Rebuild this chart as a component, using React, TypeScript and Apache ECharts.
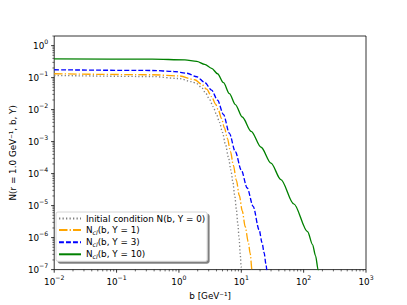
import React, { useEffect, useRef } from 'react';
import * as echarts from 'echarts';

// ---- data ----
const seriesNames = [
  'Initial condition N(b, Y = 0)',
  'Ncl(b, Y = 1)',
  'Ncl(b, Y = 3)',
  'Ncl(b, Y = 10)',
];

const bY0 = [0.01, 0.3727, 1.0, 1.608, 1.931, 2.318, 2.683, 3.105, 3.528, 4.01, 4.475, 4.993, 5.572, 6.219, 6.813, 7.331, 7.831, 8.329, 8.8, 9.228, 9.641, 9.927, 10.37];
const nY0 = [0.117, 0.1082, 0.0938, 0.0746, 0.0646, 0.0486, 0.03277, 0.02059, 0.01248, 7.045e-3, 3.976e-3, 1.944e-3, 8.24e-4, 3.254e-4, 1.285e-4, 5.45e-5, 2.149e-5, 7.9e-6, 2.7e-6, 9.24e-7, 2.94e-7, 1.25e-7, 3.4e-8];

const bY1 = [0.01, 0.3727, 1.0, 1.795, 2.318, 2.783, 3.341, 3.867, 4.315, 4.814, 5.373, 5.995, 6.69, 7.464, 8.329, 9.296, 10.37, 11.57, 12.92, 13.9, 14.84, 15.23];
const nY1 = [0.1322, 0.1231, 0.1129, 0.086, 0.0624, 0.0436, 0.02552, 0.01492, 9.376e-3, 5.292e-3, 2.683e-3, 1.266e-3, 5.0e-4, 1.837e-4, 6.28e-5, 2.074e-5, 6.85e-6, 2.18e-6, 7.46e-7, 3.16e-7, 9.7e-8, 5.7e-8];

const bY3 = [0.01, 0.3727, 0.8328, 1.34, 1.931, 2.587, 3.341, 4.159, 5.179, 6.449, 8.031, 10.0, 12.45, 15.5, 19.31, 21.54, 23.18, 24.94, 25.87, 26.83];
const nY3 = [0.1759, 0.1674, 0.1558, 0.137, 0.1066, 0.071, 0.0406, 0.01986, 7.045e-3, 1.81e-3, 4.82e-4, 1.285e-4, 3.546e-5, 9.45e-6, 1.759e-6, 6.94e-7, 3.4e-7, 1.44e-7, 8.7e-8, 5.3e-8];

const bY10 = [0.01, 0.3727, 1.245, 1.931, 2.587, 3.341, 4.159, 5.179, 6.449, 8.031, 10.37, 14.41, 20.77, 29.94, 43.14, 69.39, 115.8, 139, 155, 171.2, 179.5];
const nY10 = [0.386, 0.378, 0.36, 0.323, 0.2607, 0.1957, 0.1322, 0.0694, 0.0316, 0.0144, 5.89e-3, 2.09e-3, 6.65e-4, 2.12e-4, 6.51e-5, 1.13e-5, 1.525e-6, 6.02e-7, 2.74e-7, 9.7e-8, 5.4e-8];

const xDecades = [-2, -1, 0, 1, 2, 3];
const yDecades = [-7, -6, -5, -4, -3, -2, -1, 0];

const X_MIN = 0.01;
const X_MAX = 1000;
const Y_MIN = 1e-7;
const Y_MAX = 2;

const FONT = 'DejaVu Sans';

function supLabel(v: number): string {
  const lg = Math.log10(v);
  const k = Math.round(lg);
  if (Math.abs(lg - k) > 1e-6) return '';
  const exp = k < 0 ? '\u2212' + String(-k) : String(k);
  return '{a|10}{s|' + exp + '}';
}

export default function App() {
  const ref = useRef<HTMLDivElement>(null);

  useEffect(() => {
    if (!ref.current) return;
    const chart = echarts.init(ref.current, undefined, { renderer: 'svg' });

    const xMajor = xDecades.map((d) => [Math.pow(10, d), Y_MIN]);
    const yMajor = yDecades.map((d) => [X_MIN, Math.pow(10, d)]);
    const xMinor: number[][] = [];
    for (let d = xDecades[0]; d < xDecades[xDecades.length - 1]; d++) {
      for (let m = 2; m <= 9; m++) xMinor.push([m * Math.pow(10, d), Y_MIN]);
    }
    const yMinor: number[][] = [];
    for (let d = yDecades[0]; d <= yDecades[yDecades.length - 1]; d++) {
      for (let m = 2; m <= 9; m++) {
        const v = m * Math.pow(10, d);
        if (v <= Y_MAX * 1.0001) yMinor.push([X_MIN, v]);
      }
    }

    const tickSeries = (data: number[][], axis: 'x' | 'y', len: number, lw: number) => ({
      type: 'custom',
      silent: true,
      clip: false,
      z: 10,
      data,
      renderItem: (params: any, api: any) => {
        const p = api.coord([api.value(0), api.value(1)]);
        const shape =
          axis === 'x'
            ? { x1: p[0], y1: p[1], x2: p[0], y2: p[1] + len }
            : { x1: p[0], y1: p[1], x2: p[0] - len, y2: p[1] };
        return { type: 'line', shape, style: { stroke: '#000', lineWidth: lw } };
      },
    });

    const mk = (b: number[], n: number[]) => b.map((v, i) => [v, n[i]]);
    const lineW = 1.33;
    const lineCommon = { type: 'line', symbol: 'none', smooth: 0.3, smoothMonotone: 'x' };

    const option: any = {
      animation: false,
      backgroundColor: '#fff',
      textStyle: { fontFamily: FONT },
      grid: {
        left: 51,
        top: 36,
        width: 315,
        height: 235.6,
        show: true,
        borderColor: '#000',
        borderWidth: 0.8,
        backgroundColor: 'transparent',
      },
      xAxis: {
        type: 'log',
        logBase: 10,
        min: X_MIN,
        max: X_MAX,
        name: 'b [GeV\u207B\u00B9]',
        nameLocation: 'middle',
        nameGap: 14,
        nameTextStyle: { fontFamily: FONT, fontSize: 8.8, color: '#000' },
        axisLine: { show: false },
        axisTick: { show: false },
        splitLine: { show: false },
        minorTick: { show: false },
        axisLabel: {
          margin: 5,
          color: '#000',
          formatter: (v: number) => supLabel(v),
          rich: {
            a: { fontFamily: FONT, fontSize: 8.8, color: '#000' },
            s: { fontFamily: FONT, fontSize: 6.2, color: '#000', padding: [0, 0, 8, 0] },
          },
        },
      },
      yAxis: {
        type: 'log',
        logBase: 10,
        min: Y_MIN,
        max: Y_MAX,
        name: 'N(r = 1.0 GeV\u207B\u00B9, b, Y)',
        nameLocation: 'middle',
        nameRotate: 90,
        nameGap: 25,
        nameTextStyle: { fontFamily: FONT, fontSize: 8.8, color: '#000' },
        axisLine: { show: false },
        axisTick: { show: false },
        splitLine: { show: false },
        minorTick: { show: false },
        axisLabel: {
          margin: 6,
          color: '#000',
          formatter: (v: number) => supLabel(v),
          rich: {
            a: { fontFamily: FONT, fontSize: 8.8, color: '#000' },
            s: { fontFamily: FONT, fontSize: 6.2, color: '#000', padding: [0, 0, 8, 0] },
          },
        },
      },
      legend: {
        data: seriesNames,
        orient: 'vertical',
        left: 56,
        top: 212,
        itemWidth: 22,
        itemHeight: 10,
        itemGap: 2.6,
        padding: [2, 2, 2, 2],
        backgroundColor: '#fff',
        borderColor: '#cccccc',
        borderWidth: 0.8,
        borderRadius: 2,
        shadowColor: 'rgba(0,0,0,0.5)',
        shadowOffsetX: 2,
        shadowOffsetY: 2,
        shadowBlur: 0,
        selectedMode: false,
        itemStyle: { opacity: 0 },
        textStyle: {
          fontFamily: FONT,
          fontSize: 8.8,
          color: '#000',
          rich: {
            sub: { fontFamily: FONT, fontSize: 6.2, fontStyle: 'italic', color: '#000', padding: [4, 0, 0, 0] },
          },
        },
        formatter: (name: string) =>
          name.startsWith('Ncl') ? 'N{sub|cl}' + name.slice(3) : name,
      },
      series: [
        {
          ...lineCommon,
          name: seriesNames[0],
          data: mk(bY0, nY0),
          color: '#808080',
          lineStyle: { color: '#808080', width: lineW, type: [1.3, 2.2] },
        },
        {
          ...lineCommon,
          name: seriesNames[1],
          data: mk(bY1, nY1),
          color: '#FFA500',
          lineStyle: { color: '#FFA500', width: lineW, type: [8.5, 2.1, 1.3, 2.1] },
        },
        {
          ...lineCommon,
          name: seriesNames[2],
          data: mk(bY3, nY3),
          color: '#0000FF',
          lineStyle: { color: '#0000FF', width: lineW, type: [4.9, 2.1] },
        },
        {
          ...lineCommon,
          name: seriesNames[3],
          data: mk(bY10, nY10),
          color: '#008000',
          lineStyle: { color: '#008000', width: lineW, type: 'solid' },
        },
        tickSeries(xMajor, 'x', 3.1, 0.8),
        tickSeries(yMajor, 'y', 3.1, 0.8),
        tickSeries(xMinor, 'x', 1.8, 0.6),
        tickSeries(yMinor, 'y', 1.8, 0.6),
      ],
    };

    chart.setOption(option);
    return () => chart.dispose();
  }, []);

  return (
    <div
      ref={ref}
      style={{ position: 'fixed', left: 0, top: 0, width: 407, height: 305, background: '#fff' }}
    />
  );
}
